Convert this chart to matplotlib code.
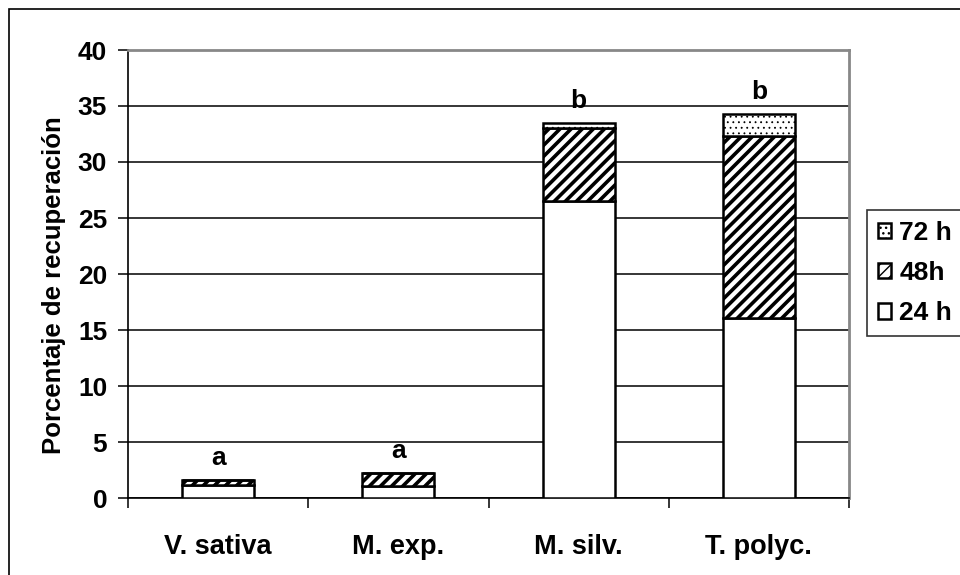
import matplotlib.pyplot as plt
import matplotlib.patches as mpatches
import numpy as np

plt.rcParams['font.family'] = ['Liberation Sans', 'DejaVu Sans']
plt.rcParams['font.weight'] = 'bold'

categorias = ["V. sativa", "M. exp.", "M. silv.", "T. polyc."]
h24 = [1.2, 1.1, 26.5, 16.1]
h48 = [0.4, 1.1, 6.5, 16.2]
h72 = [0.0, 0.0, 0.5, 2.0]
letras = ["a", "a", "b", "b"]

fig = plt.figure(figsize=(9.6, 5.75), dpi=100)
# marco exterior del grafico
fig.patches.append(mpatches.Rectangle((9 / 960, -0.1), 1.2, 1 - 9 / 575 + 0.1,
                                      transform=fig.transFigure, fill=False,
                                      edgecolor='black', linewidth=1.2))
ax = fig.add_axes([128 / 960, 77 / 575, 721 / 960, 448 / 575])

x = np.arange(len(categorias))
w = 0.4
kw = dict(width=w, edgecolor='black', linewidth=1.8, zorder=3)
b1 = ax.bar(x, h24, color='white', **kw)
with plt.rc_context({'hatch.linewidth': 2.6}):
    b2 = ax.bar(x, h48, bottom=h24, color='white', hatch='///', **kw)
base3 = [a + b for a, b in zip(h24, h48)]
with plt.rc_context({'hatch.linewidth': 0.6}):
    b3 = ax.bar(x, h72, bottom=base3, color='white', hatch='...', **kw)

totales = [a + b for a, b in zip(base3, h72)]
for xi, t, l in zip(x, totales, letras):
    ax.annotate(l, (xi, t), xytext=(0, 16), textcoords='offset points',
                ha='center', va='center', fontsize=19, fontweight='bold')

ax.set_ylim(0, 40)
ax.set_xlim(-0.5, 3.5)
ax.set_yticks(range(0, 41, 5))
ax.yaxis.grid(True, color='black', linewidth=1.1, zorder=0)
ax.set_axisbelow(True)
ax.set_xticks(x)
ax.set_xticklabels(categorias, fontsize=19.5, fontweight='bold')
ax.set_xticks(np.arange(-0.5, 4, 1), minor=True)
ax.tick_params(axis='x', which='major', length=0, pad=26)
ax.tick_params(axis='x', which='minor', length=7, width=1.1)
ax.tick_params(axis='y', length=7, width=1.1, labelsize=19, pad=8)
for lbl in ax.get_yticklabels():
    lbl.set_fontweight('bold')
ax.set_ylabel("Porcentaje de recuperación", fontsize=18.5, fontweight='bold')
ax.yaxis.set_label_coords(-0.086, 0.475)

for s in ['left', 'bottom']:
    ax.spines[s].set_color('black')
    ax.spines[s].set_linewidth(1.2)
for s in ['top', 'right']:
    ax.spines[s].set_color('#888888')
    ax.spines[s].set_linewidth(2)

leg = ax.legend([b3, b2, b1], ["72 h", "48h", "24 h"], loc='center left',
                bbox_to_anchor=(867 / 960, 1 - 273 / 575), bbox_transform=fig.transFigure,
                frameon=True, fancybox=False, edgecolor='black', fontsize=19,
                handlelength=0.5, handleheight=0.5, handletextpad=0.3,
                labelspacing=0.62, borderpad=0.42, borderaxespad=0)
leg.get_frame().set_linewidth(1.2)
for t in leg.get_texts():
    t.set_fontweight('bold')

fig.savefig("out.png", dpi=100)
